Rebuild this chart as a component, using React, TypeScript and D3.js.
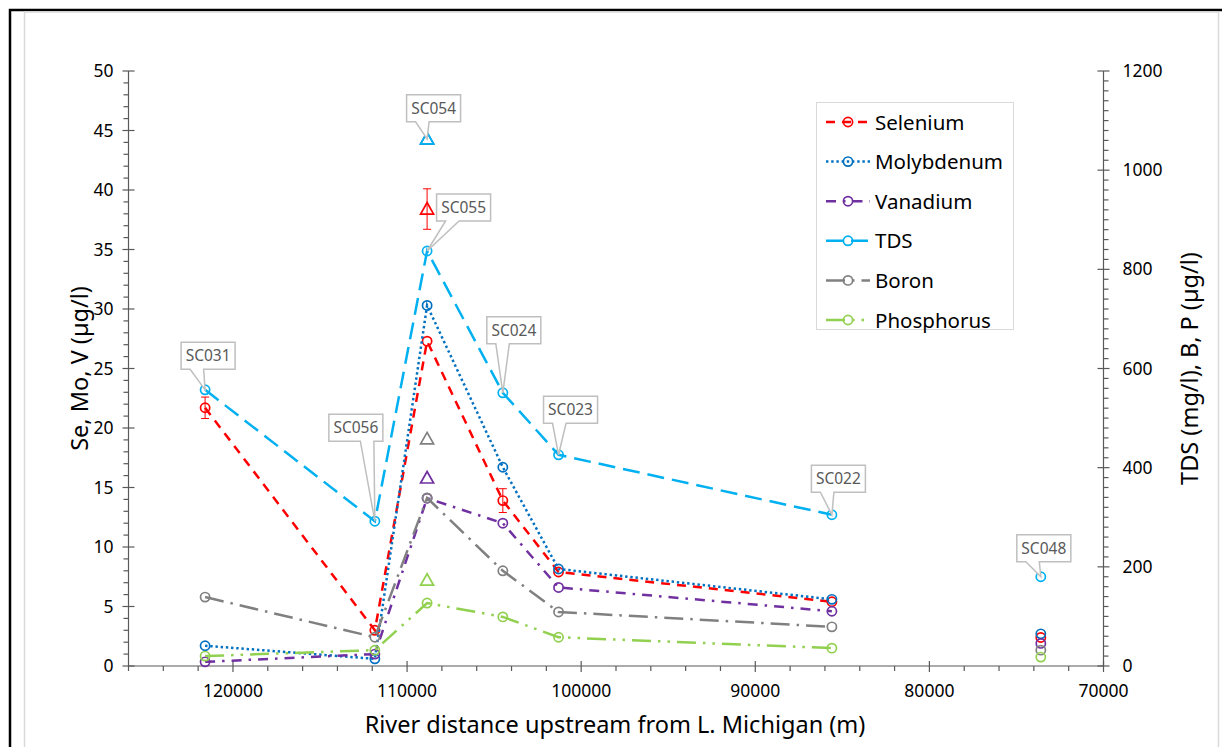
import React from "react";
import * as d3 from "d3";

// ---------- DATA ----------
const stations = ["SC031", "SC056", "SC055", "SC024", "SC023", "SC022", "SC048"];
const distance = [121600, 111850, 108850, 104500, 101300, 85600, 73600];
const selenium = [21.7, 3.0, 27.3, 13.9, 7.9, 5.4, 2.4];
const seleniumErr = [0.9, 0, 0, 1.0, 0, 0, 0];
const molybdenum = [1.7, 0.6, 30.3, 16.7, 8.15, 5.6, 2.7];
const vanadium = [0.35, 1.0, 14.1, 12.0, 6.6, 4.6, 1.9];
const tds = [557, 292, 837, 551, 426, 305, 180];
const boron = [139, 58, 339, 192, 109, 79, 32];
const phosphorus = [20, 32, 127, 99, 58, 36, 18];
// number of leading stations joined by the line (SC048 stands alone)
const connectedCount = 6;

// SC054 sample (triangles)
const sc054Station = "SC054";
const sc054Distance = 108850;
const sc054Selenium = 38.4;
const sc054SeleniumErr = 1.7;
const sc054Molybdenum = 44.3;
const sc054Vanadium = 15.8;
const sc054Tds = 1063;
const sc054Boron = 458;
const sc054Phosphorus = 173;

const xMajorTicks = [120000, 110000, 100000, 90000, 80000, 70000];
const leftTicks = [0, 5, 10, 15, 20, 25, 30, 35, 40, 45, 50];
const rightTicks = [0, 200, 400, 600, 800, 1000, 1200];

const seriesNames = ["Selenium", "Molybdenum", "Vanadium", "TDS", "Boron", "Phosphorus"];

// ---------- LAYOUT / STYLE ----------
const W = 1222;
const H = 747;
const plot = { left: 128.5, right: 1103.5, top: 71, bottom: 666 };

type Style = { color: string; dash: string; axis: "L" | "R" };
const styles: Record<string, Style> = {
  Selenium: { color: "#FF0000", dash: "9,7", axis: "L" },
  Molybdenum: { color: "#0070C0", dash: "2.4,2.8", axis: "L" },
  Vanadium: { color: "#7030A0", dash: "10,7,2.5,7", axis: "L" },
  TDS: { color: "#00B0F0", dash: "17,8", axis: "R" },
  Boron: { color: "#808080", dash: "19,7,2.5,7", axis: "R" },
  Phosphorus: { color: "#92D050", dash: "19,7,2.5,7,2.5,7", axis: "R" },
};

// callout box centre offsets from their tip point
const labelOffsets: Record<string, [number, number]> = {
  SC031: [3, -34],
  SC056: [-19, -93.5],
  SC054: [6.5, -30.5],
  SC055: [36.5, -43.5],
  SC024: [11, -62.5],
  SC023: [12, -45],
  SC022: [6.5, -36],
  SC048: [3, -28.5],
};

const FONT = "'Noto Sans', 'Open Sans', sans-serif";

const x = d3.scaleLinear().domain([126000, 70000]).range([plot.left, plot.right]);
const yL = d3.scaleLinear().domain([0, 50]).range([plot.bottom, plot.top]);
const yR = d3.scaleLinear().domain([0, 1200]).range([plot.bottom, plot.top]);

const valuesOf: Record<string, number[]> = {
  Selenium: selenium,
  Molybdenum: molybdenum,
  Vanadium: vanadium,
  TDS: tds,
  Boron: boron,
  Phosphorus: phosphorus,
};
const sc054Of: Record<string, number> = {
  Selenium: sc054Selenium,
  Molybdenum: sc054Molybdenum,
  Vanadium: sc054Vanadium,
  TDS: sc054Tds,
  Boron: sc054Boron,
  Phosphorus: sc054Phosphorus,
};

function Callout({ label, tx, ty }: { label: string; tx: number; ty: number }) {
  const [ox, oy] = labelOffsets[label];
  const w = 54;
  const h = 27;
  const cx = tx + ox;
  const cy = ty + oy;
  const bx = cx - w / 2;
  const by = cy - h / 2;
  const dx = tx - cx;
  const dy = ty - cy;
  const dq = (dx * h) / w;
  let d = "";
  if (Math.abs(dy) >= Math.abs(dq)) {
    const g1 = dx > 0 ? 7 : 2;
    const g2 = dx > 0 ? 10 : 5;
    if (dy > 0) {
      d = `M${bx},${by}H${bx + w}V${by + h}H${bx + (w * g2) / 12}L${tx},${ty}L${bx + (w * g1) / 12},${by + h}H${bx}Z`;
    } else {
      d = `M${bx},${by}H${bx + (w * g1) / 12}L${tx},${ty}L${bx + (w * g2) / 12},${by}H${bx + w}V${by + h}H${bx}Z`;
    }
  } else {
    d = `M${bx},${by}H${bx + w}V${by + h}H${bx}Z`;
  }
  return (
    <g>
      <path d={d} fill="#FFFFFF" stroke="#BFBFBF" strokeWidth={1.5} />
      <text
        x={cx}
        y={cy + 5.5}
        textAnchor="middle"
        fontFamily={FONT}
        fontSize={15.5}
        fill="#595959"
      >
        {label}
      </text>
    </g>
  );
}

function triPath(cx: number, cy: number) {
  return `M${cx},${cy - 6.5}L${cx + 6.5},${cy + 5}L${cx - 6.5},${cy + 5}Z`;
}

export default function App() {
  const line = d3
    .line<[number, number]>()
    .x((d) => d[0])
    .y((d) => d[1]);

  const xMinor = d3.range(126000, 69999, -2000).filter((v) => v % 10000 !== 0);
  const leftMinor = d3.range(0, 50.01, 1).filter((v) => v % 5 !== 0);
  const rightMinor = d3.range(0, 1200.1, 20).filter((v) => v % 200 !== 0);

  const axisColor = "#595959";
  const yOf = (name: string) => (styles[name].axis === "L" ? yL : yR);

  return (
    <div style={{ position: "absolute", left: 0, top: 0 }}>
      <svg width={W} height={H} style={{ display: "block", background: "#fff" }}>
        {/* frames */}
        <path d={`M10,${H}V10H${W}`} fill="none" stroke="#000" strokeWidth={2.5} />
        <path
          d={`M24.5,${H}V12H1218.5V${H}`}
          fill="none"
          stroke="#D9D9D9"
          strokeWidth={1.5}
        />

        {/* axes */}
        <g stroke={axisColor} strokeWidth={1.2}>
          <line x1={plot.left} x2={plot.left} y1={plot.top} y2={plot.bottom} />
          <line x1={plot.right} x2={plot.right} y1={plot.top} y2={plot.bottom} />
          <line x1={plot.left} x2={plot.right} y1={plot.bottom} y2={plot.bottom} />
          {xMinor.map((v) => (
            <line key={"xm" + v} x1={x(v)} x2={x(v)} y1={plot.bottom} y2={plot.bottom + 5} />
          ))}
          {xMajorTicks.map((v) => (
            <line key={"xM" + v} x1={x(v)} x2={x(v)} y1={plot.bottom - 5} y2={plot.bottom + 6} />
          ))}
          {leftMinor.map((v) => (
            <line key={"lm" + v} x1={plot.left - 5} x2={plot.left} y1={yL(v)} y2={yL(v)} />
          ))}
          {leftTicks.map((v) => (
            <line key={"lM" + v} x1={plot.left - 6} x2={plot.left + 6} y1={yL(v)} y2={yL(v)} />
          ))}
          {rightMinor.map((v) => (
            <line key={"rm" + v} x1={plot.right} x2={plot.right + 5} y1={yR(v)} y2={yR(v)} />
          ))}
          {rightTicks.map((v) => (
            <line key={"rM" + v} x1={plot.right - 6} x2={plot.right + 6} y1={yR(v)} y2={yR(v)} />
          ))}
        </g>

        {/* tick labels */}
        <g fontFamily={FONT} fontSize={17.5} fill="#000">
          {xMajorTicks.map((v) => (
            <text key={"xt" + v} x={x(v)} y={plot.bottom + 31} textAnchor="middle">
              {v}
            </text>
          ))}
          {leftTicks.map((v) => (
            <text key={"lt" + v} x={plot.left - 15} y={yL(v) + 6} textAnchor="end">
              {v}
            </text>
          ))}
          {rightTicks.map((v) => (
            <text key={"rt" + v} x={plot.right + 19} y={yR(v) + 6} textAnchor="start">
              {v}
            </text>
          ))}
        </g>

        {/* axis titles */}
        <text
          x={615}
          y={733}
          textAnchor="middle"
          fontFamily={FONT}
          fontSize={23.5}
          fill="#000"
        >
          River distance upstream from L. Michigan (m)
        </text>
        <text
          transform={`translate(88,${(plot.top + plot.bottom) / 2}) rotate(-90)`}
          textAnchor="middle"
          fontFamily={FONT}
          fontSize={23.5}
          fill="#000"
        >
          Se, Mo, V (µg/l)
        </text>
        <text
          transform={`translate(1198,${(plot.top + plot.bottom) / 2}) rotate(-90)`}
          textAnchor="middle"
          fontFamily={FONT}
          fontSize={23.5}
          fill="#000"
        >
          TDS (mg/l), B, P (µg/l)
        </text>

        {/* series */}
        {seriesNames.map((name) => {
          const st = styles[name];
          const ys = yOf(name);
          const vals = valuesOf[name];
          const pts: [number, number][] = vals
            .slice(0, connectedCount)
            .map((v, i) => [x(distance[i]), ys(v)]);
          return (
            <g key={name}>
              <path
                d={line(pts) || ""}
                fill="none"
                stroke={st.color}
                strokeWidth={2.5}
                strokeDasharray={st.dash}
              />
              {name === "Selenium" &&
                vals.map((v, i) =>
                  seleniumErr[i] > 0 ? (
                    <g key={"e" + i} stroke={st.color} strokeWidth={1}>
                      <line
                        x1={x(distance[i])}
                        x2={x(distance[i])}
                        y1={ys(v - seleniumErr[i])}
                        y2={ys(v + seleniumErr[i])}
                      />
                      <line
                        x1={x(distance[i]) - 4}
                        x2={x(distance[i]) + 4}
                        y1={ys(v - seleniumErr[i])}
                        y2={ys(v - seleniumErr[i])}
                      />
                      <line
                        x1={x(distance[i]) - 4}
                        x2={x(distance[i]) + 4}
                        y1={ys(v + seleniumErr[i])}
                        y2={ys(v + seleniumErr[i])}
                      />
                    </g>
                  ) : null
                )}
              {vals.map((v, i) => (
                <circle
                  key={"c" + i}
                  cx={x(distance[i])}
                  cy={ys(v)}
                  r={4.6}
                  fill="none"
                  stroke={st.color}
                  strokeWidth={1.7}
                />
              ))}
              {name === "Selenium" && (
                <g stroke={st.color} strokeWidth={1}>
                  <line
                    x1={x(sc054Distance)}
                    x2={x(sc054Distance)}
                    y1={ys(sc054Selenium - sc054SeleniumErr)}
                    y2={ys(sc054Selenium + sc054SeleniumErr)}
                  />
                  <line
                    x1={x(sc054Distance) - 4}
                    x2={x(sc054Distance) + 4}
                    y1={ys(sc054Selenium - sc054SeleniumErr)}
                    y2={ys(sc054Selenium - sc054SeleniumErr)}
                  />
                  <line
                    x1={x(sc054Distance) - 4}
                    x2={x(sc054Distance) + 4}
                    y1={ys(sc054Selenium + sc054SeleniumErr)}
                    y2={ys(sc054Selenium + sc054SeleniumErr)}
                  />
                </g>
              )}
              <path
                d={triPath(x(sc054Distance), ys(sc054Of[name]))}
                fill="none"
                stroke={st.color}
                strokeWidth={1.7}
              />
            </g>
          );
        })}

        {/* callouts (tips on TDS points) */}
        {stations.map((s, i) => (
          <Callout key={s} label={s} tx={x(distance[i])} ty={yR(tds[i])} />
        ))}
        <Callout label={sc054Station} tx={x(sc054Distance)} ty={yL(sc054Molybdenum)} />

        {/* legend */}
        <g>
          <rect x={816.5} y={102.5} width={197} height={227} fill="#fff" stroke="#D9D9D9" strokeWidth={1} />
          {seriesNames.map((name, i) => {
            const st = styles[name];
            const cy = 122 + i * 39.6;
            return (
              <g key={"lg" + name}>
                <line
                  x1={826}
                  x2={870}
                  y1={cy}
                  y2={cy}
                  stroke={st.color}
                  strokeWidth={2.5}
                  strokeDasharray={st.dash}
                />
                <circle cx={848} cy={cy} r={4.6} fill="none" stroke={st.color} strokeWidth={1.7} />
                <text
                  x={875}
                  y={cy + 7.5}
                  fontFamily={FONT}
                  fontSize={20.5}
                  fill="#000"
                >
                  {name}
                </text>
              </g>
            );
          })}
        </g>
      </svg>
    </div>
  );
}
